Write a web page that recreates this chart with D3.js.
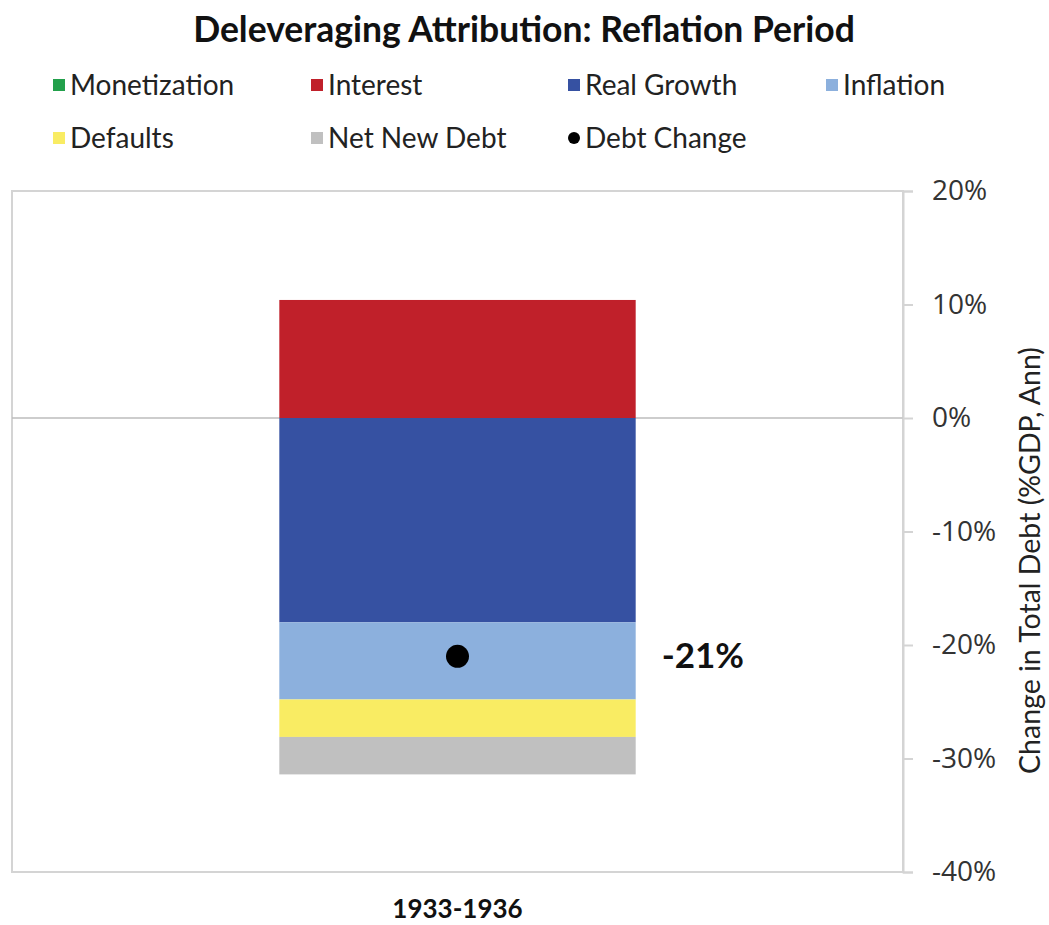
<!DOCTYPE html>
<html>
<head>
<meta charset="utf-8">
<script src="https://cdn.jsdelivr.net/npm/d3@7"></script>
<style>
  html, body { margin: 0; padding: 0; background: #fff; }
  svg { display: block; }
</style>
</head>
<body>
<div id="chart"></div>
<script>
/* Deleveraging Attribution: Reflation Period — single stacked bar (diverging)
   with the net debt change shown as a dot and a label. */
var periods = ['1933-1936'];
var seriesNames = ['Monetization', 'Interest', 'Real Growth', 'Inflation', 'Defaults', 'Net New Debt'];
var seriesColors = ['#22a04b', '#c0202a', '#3651a2', '#8cb0dd', '#f9ec63', '#c0c0c0'];
var monetization = [0];
var interest = [10.4];
var realGrowth = [-18.0];
var inflation = [-6.8];
var defaults = [-3.3];
var netNewDebt = [-3.3];
var debtChange = [-21];
var yTicks = [20, 10, 0, -10, -20, -30, -40];

(function () {
  'use strict';

  var W = 1049, H = 925;
  var left = 12, right = 903, top = 191, bottom = 872;
  var textFont = 'Lato, "Open Sans", sans-serif';
  var tickFont = '"Open Sans", Lato, sans-serif';

  var svg = d3.select('#chart').append('svg')
    .attr('width', W).attr('height', H);

  /* rows for d3.stack */
  var cols = [monetization, interest, realGrowth, inflation, defaults, netNewDebt];
  var rows = periods.map(function (p, i) {
    var r = { period: p };
    seriesNames.forEach(function (n, j) { r[n] = cols[j][i]; });
    return r;
  });
  var stacked = d3.stack().keys(seriesNames).offset(d3.stackOffsetDiverging)(rows);

  var x = d3.scaleBand().domain(periods).range([left, right])
    .paddingInner(0.4286).paddingOuter(0.4286);
  var y = d3.scaleLinear().domain([-40, 20]).range([bottom, top]);

  /* title */
  svg.append('text')
    .attr('x', 524).attr('y', 42)
    .attr('text-anchor', 'middle')
    .style('font-family', textFont).style('font-weight', 'bold')
    .style('font-size', '35.5px').style('fill', '#111')
    .text('Deleveraging Attribution: Reflation Period');

  /* legend */
  var legendItems = seriesNames.map(function (n, i) {
    return { name: n, color: seriesColors[i], type: 'square' };
  });
  legendItems.push({ name: 'Debt Change', color: '#000', type: 'dot' });
  var colX = [70, 328, 585, 843];
  var rowY = [85, 138];
  var lg = svg.append('g');
  legendItems.forEach(function (d, i) {
    var tx = colX[i % 4], cy = rowY[Math.floor(i / 4)];
    if (d.type === 'square') {
      lg.append('rect').attr('x', tx - 17).attr('y', cy - 6)
        .attr('width', 12).attr('height', 12).attr('fill', d.color);
    } else {
      lg.append('circle').attr('cx', tx - 11).attr('cy', cy)
        .attr('r', 6).attr('fill', d.color);
    }
    lg.append('text').attr('x', tx).attr('y', cy + 10)
      .style('font-family', textFont).style('font-size', '28px')
      .style('fill', '#222').text(d.name);
  });

  /* plot frame */
  svg.append('rect')
    .attr('x', left).attr('y', top)
    .attr('width', right - left).attr('height', bottom - top)
    .attr('fill', 'none').attr('stroke', '#d4d4d4').attr('stroke-width', 2);

  /* zero line */
  svg.append('line')
    .attr('x1', left).attr('x2', right)
    .attr('y1', y(0)).attr('y2', y(0))
    .attr('stroke', '#bdbdbd').attr('stroke-width', 1.5);

  /* right axis */
  var yAxis = d3.axisRight(y).tickValues(yTicks)
    .tickSize(10).tickPadding(19)
    .tickFormat(function (d) { return d + '%'; });
  var ag = svg.append('g').attr('transform', 'translate(' + right + ',0)').call(yAxis);
  ag.select('.domain').attr('stroke', '#d4d4d4').attr('stroke-width', 2);
  ag.selectAll('.tick line').attr('stroke', '#d4d4d4').attr('stroke-width', 2);
  ag.selectAll('.tick text')
    .style('font-family', tickFont).style('font-size', '28px').style('fill', '#333');

  /* axis title */
  svg.append('text')
    .attr('transform', 'translate(1040,' + ((top + bottom) / 2 + 29) + ') rotate(-90)')
    .attr('text-anchor', 'middle')
    .style('font-family', textFont).style('font-size', '28.5px').style('fill', '#222')
    .text('Change in Total Debt (%GDP, Ann)');

  /* stacked bars */
  stacked.forEach(function (s, j) {
    svg.append('g').selectAll('rect').data(s).enter().append('rect')
      .attr('x', function (d) { return x(d.data.period); })
      .attr('width', x.bandwidth())
      .attr('y', function (d) { return y(Math.max(d[0], d[1])); })
      .attr('height', function (d) { return Math.abs(y(d[0]) - y(d[1])); })
      .attr('fill', seriesColors[j]);
  });

  /* debt change dot + label */
  svg.append('g').selectAll('circle').data(periods).enter().append('circle')
    .attr('cx', function (p) { return x(p) + x.bandwidth() / 2; })
    .attr('cy', function (p, i) { return y(debtChange[i]); })
    .attr('r', 11.5).attr('fill', '#000');
  svg.append('g').selectAll('text').data(periods).enter().append('text')
    .attr('x', function (p) { return x(p) + x.bandwidth() + 26; })
    .attr('y', function (p, i) { return y(debtChange[i]) + 12; })
    .style('font-family', textFont).style('font-weight', 'bold')
    .style('font-size', '35px').style('fill', '#111')
    .text(function (p, i) { return debtChange[i] + '%'; });

  /* category label */
  svg.append('g').selectAll('text').data(periods).enter().append('text')
    .attr('x', function (p) { return x(p) + x.bandwidth() / 2; })
    .attr('y', 918)
    .attr('text-anchor', 'middle')
    .style('font-family', textFont).style('font-weight', 'bold')
    .style('font-size', '26px').style('fill', '#111')
    .text(function (p) { return p; });
})();
</script>
</body>
</html>
